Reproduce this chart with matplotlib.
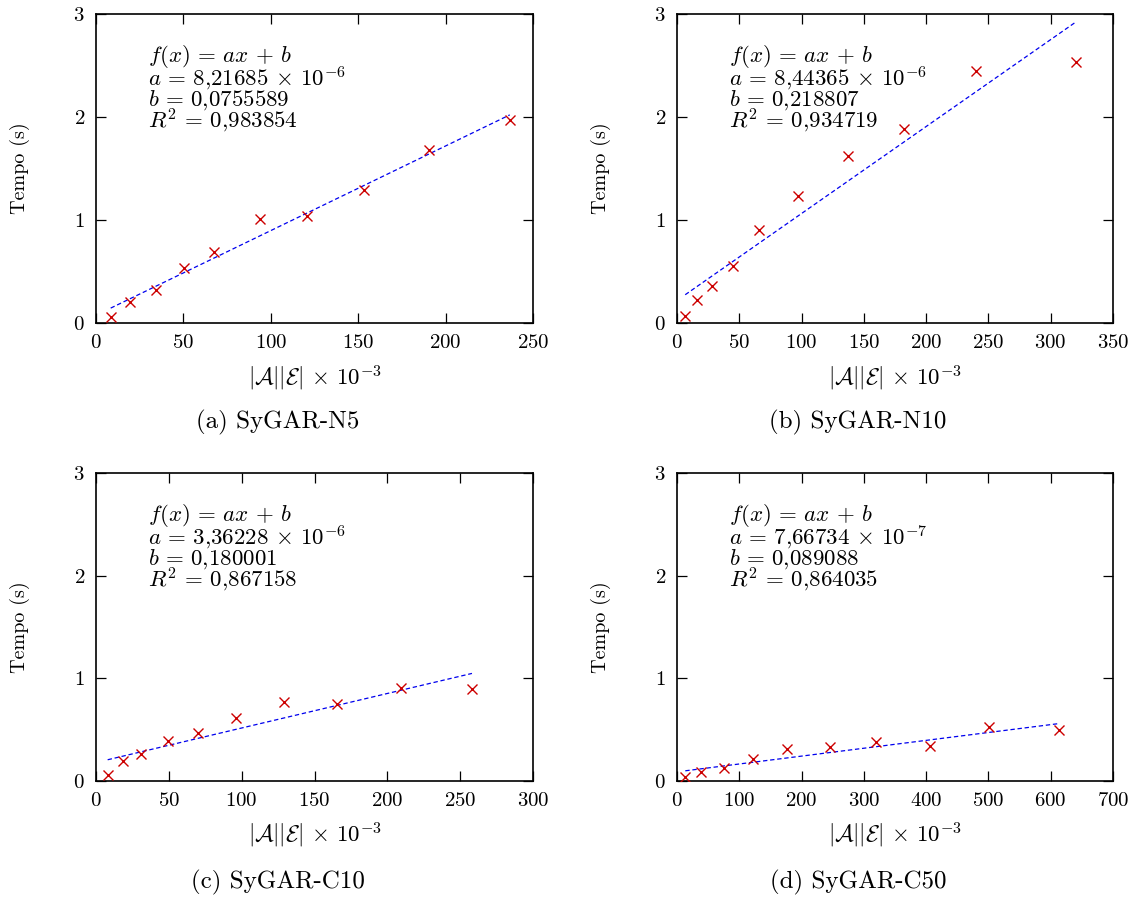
import numpy as np
import matplotlib
matplotlib.use("Agg")
import matplotlib.pyplot as plt

plt.rcParams['font.family'] = 'serif'
plt.rcParams['font.serif'] = ['cmr10']
plt.rcParams['mathtext.fontset'] = 'cm'
plt.rcParams['axes.unicode_minus'] = False
plt.rcParams['axes.formatter.use_mathtext'] = True

# data (x in units of 10^3)
x_n5 = [8.4, 19.5, 34.1, 50.2, 67.5, 94.0, 120.9, 153.3, 190.7, 236.7]
y_n5 = [0.06, 0.20, 0.32, 0.53, 0.69, 1.01, 1.04, 1.29, 1.68, 1.97]
x_n10 = [6.6, 15.8, 28.3, 44.6, 66.0, 96.8, 137.4, 182.4, 240.2, 320.1]
y_n10 = [0.07, 0.22, 0.36, 0.55, 0.90, 1.23, 1.62, 1.88, 2.45, 2.53]
x_c10 = [8.0, 18.8, 30.9, 49.5, 69.8, 96.0, 129.1, 165.6, 209.3, 258.1]
y_c10 = [0.06, 0.19, 0.26, 0.39, 0.47, 0.61, 0.77, 0.75, 0.91, 0.90]
x_c50 = [13.3, 38.5, 75.8, 121.3, 176.9, 246.4, 319.6, 405.6, 500.7, 613.0]
y_c50 = [0.04, 0.09, 0.13, 0.21, 0.31, 0.33, 0.38, 0.34, 0.53, 0.50]

fit_a = [8.21685e-6, 8.44365e-6, 3.36228e-6, 7.66734e-7]
fit_b = [0.0755589, 0.218807, 0.180001, 0.089088]
a_text = [r"8{,}21685\,\times\,10^{-6}", r"8{,}44365\,\times\,10^{-6}",
          r"3{,}36228\,\times\,10^{-6}", r"7{,}66734\,\times\,10^{-7}"]
b_text = ["0{,}0755589", "0{,}218807", "0{,}180001", "0{,}089088"]
r2_text = ["0{,}983854", "0{,}934719", "0{,}867158", "0{,}864035"]
xmax = [250, 350, 300, 700]
xticks = [np.arange(0, 251, 50), np.arange(0, 351, 50),
          np.arange(0, 301, 50), np.arange(0, 701, 100)]
captions = ["(a) SyGAR-N5", "(b) SyGAR-N10", "(c) SyGAR-C10", "(d) SyGAR-C50"]

xs = [x_n5, x_n10, x_c10, x_c50]
ys = [y_n5, y_n10, y_c10, y_c50]

W, H = 1134, 900
fig = plt.figure(figsize=(W / 100, H / 100), dpi=100)

# axes boxes in pixels: left, right, top, bottom
boxes = [(96, 533, 14, 323), (677, 1113, 14, 323),
         (96, 533, 473, 781), (677, 1113, 473, 781)]
cap_pos = [(278, 422), (858, 422), (278, 882), (858, 882)]

for i in range(4):
    l, r, t, b = boxes[i]
    ax = fig.add_axes([l / W, 1 - b / H, (r - l) / W, (b - t) / H])
    x = np.array(xs[i])
    y = np.array(ys[i])
    xf = np.array([x.min(), x.max()])
    ax.plot(xf, fit_a[i] * xf * 1000 + fit_b[i], color='#0000ee', lw=0.9,
            ls=(0, (3.5, 2.2)), zorder=2)
    ax.plot(x, y, 'x', color='#cc0000', ms=7.5, mew=1.0, zorder=3)
    ax.set_xlim(0, xmax[i])
    ax.set_ylim(0, 3)
    ax.set_xticks(xticks[i])
    ax.set_yticks([0, 1, 2, 3])
    ax.tick_params(direction='in', length=7, width=0.9, top=True, right=True,
                   labelsize=15, pad=8)
    for s in ax.spines.values():
        s.set_linewidth(1.2)
    ax.set_ylabel("Tempo (s)", fontsize=14.5)
    ax.yaxis.set_label_coords(-0.174, 0.5)
    ax.yaxis.label.set_va('center')
    ax.set_xlabel(r"$|\mathcal{A}||\mathcal{E}|\,\times\,10^{-3}$", fontsize=16.5)
    ax.xaxis.set_label_coords(0.5, -0.178)
    ax.xaxis.label.set_va('center')

    eq = r"\,=\,"
    note = "\n".join([r"$f(x)" + eq + r"ax\,+\,b$",
                      r"$a" + eq + a_text[i] + "$",
                      r"$b" + eq + b_text[i] + "$",
                      r"$R^2" + eq + r2_text[i] + "$"])
    ax.text(0.12, 0.905, note, transform=ax.transAxes, fontsize=16.5,
            va='top', ha='left', linespacing=0.74)

    fig.text(cap_pos[i][0] / W, 1 - cap_pos[i][1] / H, captions[i],
             fontsize=18, ha='center', va='center')

fig.savefig("out.png", dpi=100)
